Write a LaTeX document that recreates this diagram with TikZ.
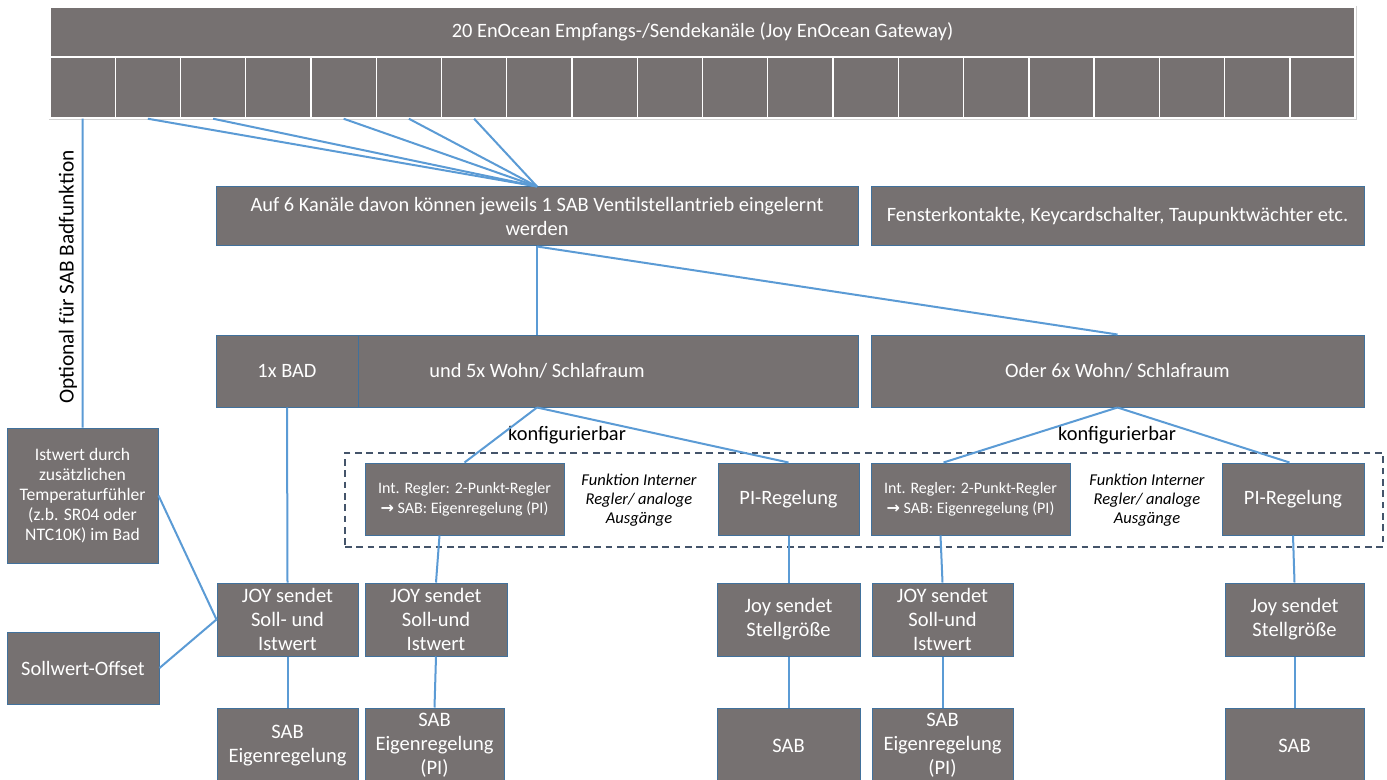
\documentclass[tikz,border=0pt]{standalone}
\usepackage{fontspec}
\setmainfont{Carlito}
\newfontfamily\arrowfont{DejaVu Sans}
\usetikzlibrary{calc}
\definecolor{boxgray}{HTML}{767171}
\definecolor{boxline}{HTML}{41719C}
\definecolor{cline}{HTML}{5B9BD5}
\definecolor{dashc}{HTML}{44546A}
\newcommand\mybox[7][]{\node[box,#1,minimum width={(#5-#3)*0.75pt},minimum height={(#6-#4)*0.75pt}] (#2) at ({(#3+#5)/2},{(#4+#6)/2}) {#7};}
\newcommand\myarr{{\arrowfont\bfseries →}}
\begin{document}
\begin{tikzpicture}[x=0.75pt,y=-0.75pt,
  box/.style={draw=boxline, fill=boxgray, text=white, align=center, inner sep=0pt, line width=0.75pt, font=\fontsize{15.3}{17.5}\selectfont},
  chan/.style={draw=white, line width=1.1pt},
  head/.style={draw=white, line width=1.1pt},
  link/.style={draw=cline, line width=1.5pt},
  joyf/.style={font=\fontsize{15.4}{18}\selectfont},
  smallf/.style={font=\fontsize{12}{15}\selectfont},
  istf/.style={font=\fontsize{13.2}{15}\selectfont},
  lbl/.style={inner sep=0pt, align=center, font=\fontsize{15.3}{17}\selectfont},
  optf/.style={font=\fontsize{16}{17}\selectfont},
  ital/.style={inner sep=0pt, align=center, font=\fontsize{12.4}{14.25}\selectfont\itshape},
  dashbox/.style={fill=none, draw=dashc, line width=1pt, dash pattern=on 5pt off 3.5pt}]
\clip (0,0) rectangle (1387,780);
\fill[white] (0,0) rectangle (1387,780);
% header and channels
\draw[gray!35, line width=0.8pt] (50,7) rectangle (1356,119);
\mybox[head]{hdr}{50}{7}{1355}{57}{20 EnOcean Empfangs-/Sendekanäle (Joy EnOcean Gateway)}
\foreach \i in {1,...,20}{
  \pgfmathsetmacro\xa{50+(\i-1)*65.25}
  \pgfmathsetmacro\xb{\xa+65.25}
  \mybox[chan]{c\i}{\xa}{57}{\xb}{118}{}
}
% second row
\mybox{auf}{216}{187}{858}{246}{Auf 6 Kanäle davon können jeweils 1 SAB Ventilstellantrieb eingelernt\\werden}
\mybox{fen}{871}{187}{1364}{246}{Fensterkontakte, Keycardschalter, Taupunktwächter etc.}
% third row
\mybox{row}{216}{335}{858}{407}{und 5x Wohn/ Schlafraum}
\mybox{bad}{216}{335}{358}{407}{1x BAD}
\mybox{oder}{871}{335}{1364}{407}{Oder 6x Wohn/ Schlafraum}
% left side
\mybox[istf]{ist}{7}{428}{158}{563}{Istwert durch\\zusätzlichen\\Temperaturfühler\\(z.b. SR04 oder\\NTC10K) im Bad}
\mybox{soff}{7}{632}{159}{704}{Sollwert-Offset}
\node[lbl, optf, rotate=90] (opt) at (68,277) {Optional für SAB Badfunktion};
% dashed group
\mybox[dashbox]{grp}{345}{453}{1383}{547}{}
\mybox[smallf]{int1}{365}{463}{564}{535}{Int. Regler: 2-Punkt-Regler\\\myarr\ SAB: Eigenregelung (PI)}
\mybox{pi1}{718}{463}{859}{535}{PI-Regelung}
\mybox[smallf]{int2}{871}{463}{1070}{535}{Int. Regler: 2-Punkt-Regler\\\myarr\ SAB: Eigenregelung (PI)}
\mybox{pi2}{1222}{463}{1364}{535}{PI-Regelung}
\node[ital] (f1) at (639,500) {Funktion Interner\\Regler/ analoge\\Ausgänge};
\node[ital] (f2) at (1147,500) {Funktion Interner\\Regler/ analoge\\Ausgänge};
\node[lbl] (k1) at (567,435) {konfigurierbar};
\node[lbl] (k2) at (1117,435) {konfigurierbar};
% JOY row
\mybox[joyf]{joy1}{217}{583}{358}{656}{JOY sendet\\Soll- und\\Istwert}
\mybox[joyf]{joy2}{365}{583}{507}{656}{JOY sendet\\Soll-und\\Istwert}
\mybox[joyf]{joy3}{717}{583}{860}{656}{Joy sendet\\Stellgröße}
\mybox[joyf]{joy4}{872}{583}{1013}{656}{JOY sendet\\Soll-und\\Istwert}
\mybox[joyf]{joy5}{1225}{583}{1364}{656}{Joy sendet\\Stellgröße}
% SAB row
\mybox[joyf]{sab1}{217}{708}{358}{783}{SAB\\Eigenregelung}
\mybox[joyf]{sab2}{365}{708}{504}{783}{SAB\\Eigenregelung\\(PI)}
\mybox[joyf]{sab3}{717}{708}{860}{783}{SAB}
\mybox[joyf]{sab4}{872}{708}{1013}{783}{SAB\\Eigenregelung\\(PI)}
\mybox[joyf]{sab5}{1225}{708}{1364}{783}{SAB}
% connectors
\draw[link] (c1.south) -- (ist.north);
\foreach \i in {2,3,5,6,7} \draw[link] (c\i.south) -- (auf.north);
\draw[link] (auf.south) -- (row.north);
\draw[link] (auf.south) -- (oder.north);
\draw[link] (row.south) -- (int1.north);
\draw[link] (row.south) -- (pi1.north);
\draw[link] (oder.south) -- ($(int2.north west)+(73,0)$);
\draw[link] (oder.south) -- ($(pi2.north west)+(68,0)$);
\draw[link] (bad.south) -- (joy1.north);
\draw[link] (ist.east) -- (joy1.west);
\draw[link] (soff.east) -- (joy1.west);
\draw[link] ($(int1.south west)+(75,0)$) -- (joy2.north);
\draw[link] ($(int2.south west)+(70,0)$) -- (joy4.north);
\draw[link] (pi1.south) -- (joy3.north);
\draw[link] (pi2.south) -- (joy5.north);
\draw[link] (joy1.south) -- (sab1.north);
\draw[link] (joy2.south) -- (sab2.north);
\draw[link] (joy3.south) -- (sab3.north);
\draw[link] (joy4.south) -- (sab4.north);
\draw[link] (joy5.south) -- (sab5.north);
\end{tikzpicture}
\end{document}
